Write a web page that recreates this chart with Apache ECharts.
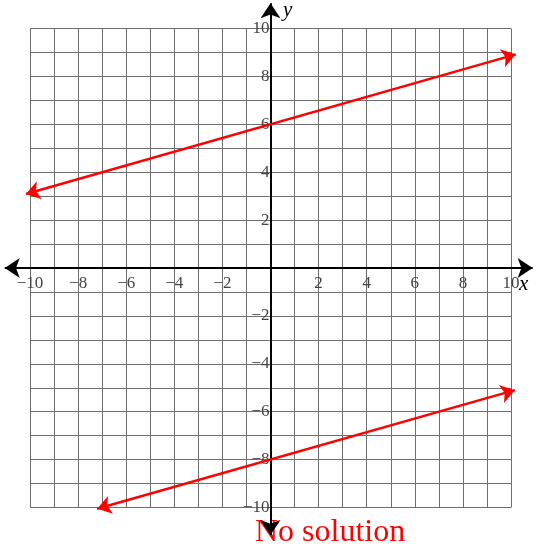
<!DOCTYPE html>
<html>
<head>
<meta charset="utf-8">
<script src="https://cdn.jsdelivr.net/npm/echarts@6/dist/echarts.min.js"></script>
<style>
  html, body { margin: 0; padding: 0; background: #fff; }
  #chart { width: 539px; height: 552px; }
</style>
</head>
<body>
<div id="chart"></div>
<script>
// endpoints (arrow tips)
const upperLine = [[-10.17, 3.09], [10.2, 8.92]]
const lowerLine = [[-7.21, -10.05], [10.16, -5.1]]
const xAxisArrow = [[-11.05, 0], [10.9, 0]]
const yAxisArrow = [[0, -11.15], [0, 11.05]]
const axisMin = -10
const axisMax = 10

const chart = echarts.init(document.getElementById('chart'))

const fmt = (v) => {
  if (v === 0 || v % 2 !== 0) return ''
  return String(v).replace('-', '\u2212')
}

const serif = '"Liberation Serif", "DejaVu Serif", serif'

// grid box in pixels
const gLeft = 30, gTop = 28.5, gW = 481, gH = 479

chart.setOption({
  animation: false,
  grid: {
    left: gLeft,
    top: gTop,
    width: gW,
    height: gH,
    containLabel: false
  },
  xAxis: {
    type: 'value',
    min: axisMin,
    max: axisMax,
    interval: 1,
    position: 'bottom',
    offset: -gH / 2,
    axisLine: { show: false, onZero: false },
    axisTick: { show: false },
    splitLine: { show: true, lineStyle: { color: '#6e6e6e', width: 1 } },
    axisLabel: {
      formatter: fmt,
      color: '#444',
      fontFamily: serif,
      fontSize: 17,
      margin: 7,
      showMinLabel: true,
      showMaxLabel: true
    }
  },
  yAxis: {
    type: 'value',
    min: axisMin,
    max: axisMax,
    interval: 1,
    position: 'left',
    offset: -gW / 2,
    axisLine: { show: false, onZero: false },
    axisTick: { show: false },
    splitLine: { show: true, lineStyle: { color: '#6e6e6e', width: 1 } },
    axisLabel: {
      formatter: fmt,
      color: '#444',
      fontFamily: serif,
      fontSize: 17,
      margin: 1,
      showMinLabel: true,
      showMaxLabel: true
    }
  },
  series: [
    {
      type: 'lines',
      coordinateSystem: 'cartesian2d',
      polyline: false,
      clip: false,
      symbol: ['arrow', 'arrow'],
      symbolSize: [15, 15],
      lineStyle: { color: '#000', width: 2, opacity: 1, curveness: 0 },
      data: [{ coords: xAxisArrow }, { coords: yAxisArrow }],
      z: 3
    },
    {
      type: 'lines',
      coordinateSystem: 'cartesian2d',
      polyline: false,
      clip: false,
      symbol: ['arrow', 'arrow'],
      symbolSize: [14, 14],
      lineStyle: { color: '#ff0000', width: 2.5, opacity: 1, curveness: 0 },
      data: [{ coords: upperLine }, { coords: lowerLine }],
      z: 4
    }
  ],
  graphic: [
    {
      type: 'text',
      left: 519,
      top: 274,
      style: { text: 'x', font: 'italic 21px ' + serif, fill: '#000' }
    },
    {
      type: 'text',
      left: 283,
      top: 0,
      style: { text: 'y', font: 'italic 21px ' + serif, fill: '#000' }
    },
    {
      type: 'text',
      left: 255,
      top: 517,
      style: { text: 'No solution', font: '32px ' + serif, fill: '#ff0000' }
    }
  ]
})
</script>
</body>
</html>
